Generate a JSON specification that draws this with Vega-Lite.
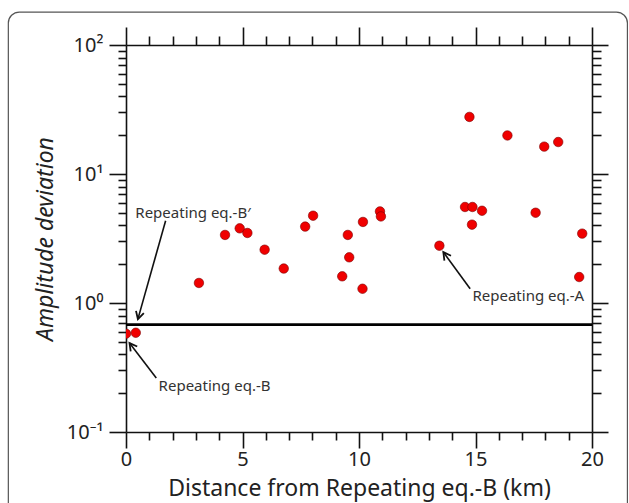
{
  "$schema": "https://vega.github.io/schema/vega-lite/v6.json",
  "width": 466,
  "height": 387,
  "autosize": {"type": "none"},
  "padding": {"left": 126, "top": 45, "right": 37, "bottom": 71},
  "background": "white",
  "config": {
    "font": "Noto Sans",
    "view": {"stroke": null},
    "axis": {
      "domainColor": "#111",
      "domainWidth": 1.6,
      "tickColor": "#111",
      "tickWidth": 1.6,
      "labelFont": "Noto Sans",
      "labelColor": "#222",
      "labelFontSize": 20,
      "titleFont": "Noto Sans",
      "titleColor": "#222",
      "titleFontWeight": "normal",
      "titleFontSize": 23,
      "grid": false,
      "labelFlush": false,
      "labelOverlap": false
    }
  },
  "datasets": {
    "points": [
      {"distance": 0.0, "deviation": 0.578},
      {"distance": 0.42, "deviation": 0.588},
      {"distance": 3.13, "deviation": 1.43},
      {"distance": 4.25, "deviation": 3.37},
      {"distance": 4.88, "deviation": 3.79},
      {"distance": 5.21, "deviation": 3.49},
      {"distance": 5.95, "deviation": 2.59},
      {"distance": 6.77, "deviation": 1.85},
      {"distance": 7.69, "deviation": 3.91},
      {"distance": 8.03, "deviation": 4.75},
      {"distance": 9.28, "deviation": 1.61},
      {"distance": 9.52, "deviation": 3.37},
      {"distance": 9.58, "deviation": 2.26},
      {"distance": 10.17, "deviation": 4.25},
      {"distance": 10.15, "deviation": 1.29},
      {"distance": 10.90, "deviation": 5.13},
      {"distance": 10.94, "deviation": 4.69},
      {"distance": 13.45, "deviation": 2.78},
      {"distance": 14.55, "deviation": 5.55},
      {"distance": 14.74, "deviation": 27.7},
      {"distance": 14.87, "deviation": 5.55},
      {"distance": 14.85, "deviation": 4.05},
      {"distance": 15.28, "deviation": 5.19},
      {"distance": 16.37, "deviation": 19.9},
      {"distance": 17.58, "deviation": 5.01},
      {"distance": 17.95, "deviation": 16.3},
      {"distance": 18.55, "deviation": 17.7},
      {"distance": 19.45, "deviation": 1.59},
      {"distance": 19.58, "deviation": 3.45}
    ],
    "arrows": [
      {"name": "Bp", "x": 1.70, "y": 4.34, "x2": 0.51, "y2": 0.75},
      {"name": "A", "x": 14.77, "y": 1.29, "x2": 13.62, "y2": 2.48},
      {"name": "B", "x": 1.30, "y": 0.262, "x2": 0.15, "y2": 0.489}
    ],
    "labels": [
      {"text": "Repeating eq.-B′", "x": 0.40, "y": 5.02},
      {"text": "Repeating eq.-A", "x": 14.87, "y": 1.14},
      {"text": "Repeating eq.-B", "x": 1.40, "y": 0.229}
    ]
  },
  "resolve": {"axis": {"x": "independent", "y": "independent"}},
  "layer": [
    {
      "data": {"values": [{}]},
      "mark": {"type": "rect", "fill": null, "stroke": "#555", "strokeWidth": 1.2, "cornerRadius": 11, "clip": false},
      "encoding": {
        "x": {"datum": -5.05, "type": "quantitative", "scale": {"domain": [0, 20], "nice": false, "zero": false}, "axis": null},
        "x2": {"datum": 21.52},
        "y": {"datum": 180, "type": "quantitative", "scale": {"type": "log", "domain": [0.1, 100], "nice": false}, "axis": null},
        "y2": {"datum": 0.0175}
      }
    },
    {
      "data": {"values": [{}]},
      "mark": {"type": "rule", "color": "#000", "strokeWidth": 2.6},
      "encoding": {
        "y": {"datum": 0.68, "type": "quantitative", "scale": {"type": "log", "domain": [0.1, 100], "nice": false}, "axis": null}
      }
    },
    {
      "data": {"name": "points"},
      "mark": {"type": "point", "filled": true, "shape": "circle", "size": 90, "color": "#f00000", "stroke": "#7a0000", "strokeWidth": 0.6, "opacity": 1, "clip": true},
      "encoding": {
        "x": {
          "field": "distance", "type": "quantitative",
          "scale": {"domain": [0, 20], "nice": false, "zero": false},
          "axis": {
            "orient": "bottom",
            "title": "Distance from Repeating eq.-B (km)",
            "values": [0, 5, 10, 15, 20],
            "tickSize": 16,
            "labelPadding": 1,
            "titlePadding": 8
          }
        },
        "y": {
          "field": "deviation", "type": "quantitative",
          "scale": {"type": "log", "domain": [0.1, 100], "nice": false},
          "axis": {
            "orient": "left",
            "title": "Amplitude deviation",
            "titleFontStyle": "italic",
            "values": [0.1, 1, 10, 100],
            "tickSize": 17,
            "labelExpr": "datum.value == 100 ? '10²' : datum.value == 10 ? '10¹' : datum.value == 1 ? '10⁰' : '10⁻¹'",
            "labelPadding": 6,
            "titlePadding": 9
          }
        }
      }
    },
    {
      "data": {"name": "arrows"},
      "mark": {"type": "rule", "color": "#111", "strokeWidth": 1.6},
      "encoding": {
        "x": {
          "field": "x", "type": "quantitative",
          "scale": {"domain": [0, 20], "nice": false, "zero": false},
          "axis": {
            "orient": "bottom", "title": null, "labels": false, "domain": false,
            "values": [1,2,3,4,6,7,8,9,11,12,13,14,16,17,18,19],
            "tickSize": 8
          }
        },
        "x2": {"field": "x2"},
        "y": {
          "field": "y", "type": "quantitative",
          "scale": {"type": "log", "domain": [0.1, 100], "nice": false},
          "axis": {
            "orient": "left", "title": null, "labels": false, "domain": false,
            "values": [0.2,0.3,0.4,0.5,0.6,0.7,0.8,0.9,2,3,4,5,6,7,8,9,20,30,40,50,60,70,80,90],
            "tickSize": 8
          }
        },
        "y2": {"field": "y2"}
      }
    },
    {
      "data": {"name": "arrows"},
      "transform": [{"filter": "datum.name === 'Bp'"}],
      "mark": {"type": "point", "shape": "M-0.55,1L0,0L0.55,1", "size": 220, "filled": false, "stroke": "#111", "strokeWidth": 1.8, "angle": 196, "opacity": 1},
      "encoding": {
        "x": {
          "field": "x2", "type": "quantitative", "scale": {"domain": [0, 20], "nice": false, "zero": false},
          "axis": {"orient": "top", "title": null, "labels": false, "values": [0, 5, 10, 15, 20], "tickSize": 18}
        },
        "y": {
          "field": "y2", "type": "quantitative", "scale": {"type": "log", "domain": [0.1, 100], "nice": false},
          "axis": {"orient": "right", "title": null, "labels": false, "values": [0.1, 1, 10, 100], "tickSize": 16}
        }
      }
    },
    {
      "data": {"name": "arrows"},
      "transform": [{"filter": "datum.name === 'A'"}],
      "mark": {"type": "point", "shape": "M-0.55,1L0,0L0.55,1", "size": 220, "filled": false, "stroke": "#111", "strokeWidth": 1.8, "angle": 324, "opacity": 1},
      "encoding": {
        "x": {
          "field": "x2", "type": "quantitative", "scale": {"domain": [0, 20], "nice": false, "zero": false},
          "axis": {"orient": "top", "title": null, "labels": false, "domain": false, "values": [1,2,3,4,6,7,8,9,11,12,13,14,16,17,18,19], "tickSize": 9}
        },
        "y": {
          "field": "y2", "type": "quantitative", "scale": {"type": "log", "domain": [0.1, 100], "nice": false},
          "axis": {"orient": "right", "title": null, "labels": false, "domain": false, "values": [0.2,0.3,0.4,0.5,0.6,0.7,0.8,0.9,2,3,4,5,6,7,8,9,20,30,40,50,60,70,80,90], "tickSize": 9}
        }
      }
    },
    {
      "data": {"name": "arrows"},
      "transform": [{"filter": "datum.name === 'B'"}],
      "mark": {"type": "point", "shape": "M-0.55,1L0,0L0.55,1", "size": 220, "filled": false, "stroke": "#111", "strokeWidth": 1.8, "angle": 323, "opacity": 1},
      "encoding": {
        "x": {"field": "x2", "type": "quantitative", "scale": {"domain": [0, 20], "nice": false, "zero": false}, "axis": null},
        "y": {"field": "y2", "type": "quantitative", "scale": {"type": "log", "domain": [0.1, 100], "nice": false}, "axis": null}
      }
    },
    {
      "data": {"name": "labels"},
      "mark": {"type": "text", "align": "left", "baseline": "middle", "font": "Noto Sans", "fontSize": 15, "color": "#333"},
      "encoding": {
        "x": {"field": "x", "type": "quantitative", "scale": {"domain": [0, 20], "nice": false, "zero": false}, "axis": null},
        "y": {"field": "y", "type": "quantitative", "scale": {"type": "log", "domain": [0.1, 100], "nice": false}, "axis": null},
        "text": {"field": "text"}
      }
    }
  ]
}
